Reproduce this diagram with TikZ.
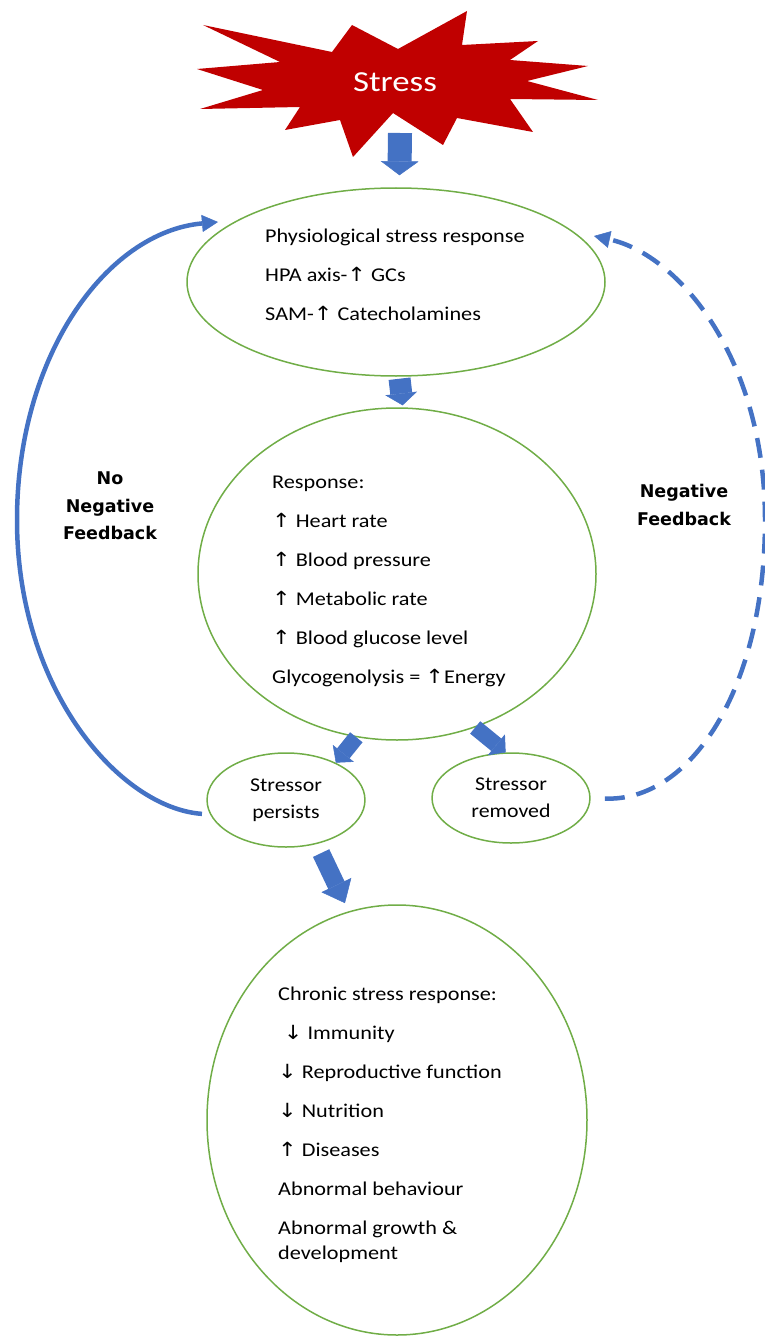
\documentclass[tikz,border=0pt]{standalone}
\usepackage{fontspec}
\setmainfont{Carlito}
\newfontfamily\arrfont{DejaVu Sans}
\newfontfamily\labelfont{DejaVu Sans}
\usetikzlibrary{arrows.meta,shapes.geometric}
\definecolor{stressred}{HTML}{C00000}
\definecolor{arrowblue}{HTML}{4472C4}
\definecolor{bubblegreen}{HTML}{70AD47}
\newcommand{\incr}{{\arrfont ↑}}
\newcommand{\decr}{{\arrfont ↓}}
\tikzset{
  bubble/.style       = {ellipse, draw=bubblegreen, line width=1.5pt, inner sep=0pt},
  bubble text/.style  = {inner sep=0pt, align=left, xscale=1.14, transform shape,
                         font=\fontsize{19.5}{39}\selectfont},
  small bubble/.style = {bubble, align=center, xscale=1.12, transform shape,
                         font=\fontsize{19.5}{27}\selectfont},
  fb label/.style     = {align=center, font=\labelfont\bfseries\fontsize{17.5}{27.5}\selectfont},
  blockarrow/.style n args = {3}{draw=arrowblue, line width=#1,
                         -{Triangle[width=#2, length=#3, line width=0.5pt]}},
  fbline/.style       = {draw=arrowblue, line width=4.5pt,
                         -{Triangle[width=17pt, length=16pt, line width=0.5pt]}}
}

\begin{document}
\begin{tikzpicture}[x=1pt, y=-1pt]
\useasboundingbox (0,0) rectangle (764,1340);

% the stress burst
\fill[stressred] (203,25) -- (332,52) -- (352,25) -- (398,49) -- (467,11) -- (462,45)
  -- (538,41) -- (510,60) -- (588,66) -- (527,81) -- (598,100) -- (510,99)
  -- (533,132) -- (457,118) -- (443,145) -- (393,113) -- (353,157) -- (340,120)
  -- (285,130) -- (300,107) -- (200,109) -- (263,90) -- (197,69) -- (280,62) -- cycle;
\node[text=white, xscale=1.2, transform shape, font=\fontsize{29}{30}\selectfont]
  (stress) at (395,82) {Stress};
\coordinate (burst) at (400,133);

% the stress response ellipses
\node[bubble, minimum width=418pt, minimum height=188pt] (phys) at (396,282) {};
\node[bubble text, anchor=west] (physText) at (265,275)
  {Physiological stress response\\ HPA axis-\incr{} GCs\\ SAM-\incr{} Catecholamines};

\node[bubble, minimum width=398pt, minimum height=332pt] (resp) at (397,574) {};
\node[bubble text, anchor=west] (respText) at (272,581)
  {Response:\\ \incr{} Heart rate\\ \incr{} Blood pressure\\ \incr{} Metabolic rate\\
   \incr{} Blood glucose level\\ Glycogenolysis = \incr{}Energy};

\node[small bubble, minimum width=141pt, minimum height=94pt] (persists) at (286,800)
  {Stressor\\ persists};
\node[small bubble, minimum width=141pt, minimum height=90pt] (removed) at (511,798)
  {Stressor\\ removed};

\node[bubble, minimum width=380pt, minimum height=430pt] (chronic) at (397,1120) {};
\node[bubble text, anchor=west] (chronicText) at (278,1125)
  {Chronic stress response:\\ \hspace*{5pt}\decr{} Immunity\\ \decr{} Reproductive function\\
   \decr{} Nutrition\\ \incr{} Diseases\\ Abnormal behaviour\\
   Abnormal growth \&\\[-14pt] development};

% feedback labels
\node[fb label] (nofb) at (110,506) {No\\ Negative\\ Feedback};
\node[fb label] (fb) at (684,505) {Negative\\ Feedback};

% block arrows
\draw[blockarrow={24pt}{38pt}{14pt}, shorten >=12pt] (burst) -- (phys.88);
\draw[blockarrow={22pt}{32pt}{12pt}, shorten <=2pt, shorten >=2pt] (phys.272) -- (resp.88);
\draw[blockarrow={16pt}{27pt}{12pt}] (resp.256) -- (persists.40);
\draw[blockarrow={16pt}{27pt}{12pt}] (resp.297) -- (removed.96);
\draw[blockarrow={18pt}{33pt}{20pt}, shorten <=10pt, shorten >=9pt] (persists.302) -- (chronic.103);

% feedback loops
\coordinate (nofbEnd) at (218,222);
\coordinate (fbEnd) at (594,236);
\draw[fbline, shorten <=8pt] (persists.192) .. controls (120,808) and (17,690) .. (17,520)
  .. controls (17,355) and (107,232) .. (nofbEnd);
\draw[fbline, dash pattern=on 20pt off 12pt, shorten <=14pt] (removed.east)
  .. controls (690,802) and (765,690) .. (765,520)
  .. controls (765,360) and (680,255) .. (fbEnd);
\end{tikzpicture}
\end{document}
